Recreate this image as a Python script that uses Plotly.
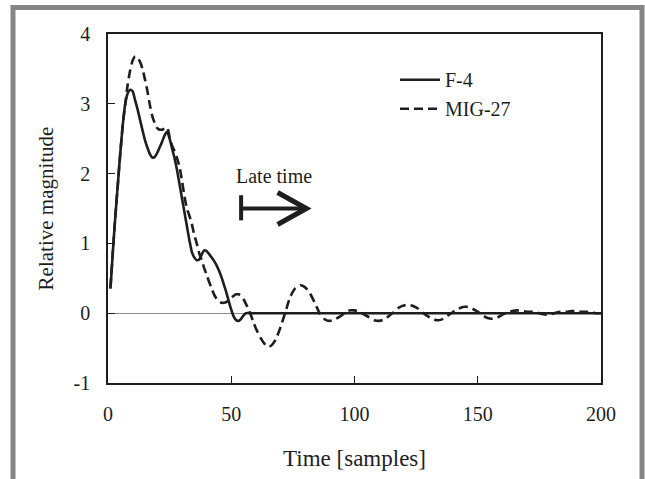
import plotly.graph_objects as go

# ---- data ----
f4_t = [1, 2, 3, 4, 5, 6, 7, 8, 9, 10, 11, 12, 13, 14, 15, 16, 17, 18, 19, 20,
        21, 22, 23, 24, 25, 26, 27, 28, 29, 30, 31, 32, 33, 34, 35, 36, 37, 38, 39, 40,
        41, 42, 43, 44, 45, 46, 47, 48, 49, 50, 51, 52, 53, 54, 55, 56, 58, 60,
        80, 100, 120, 140, 160, 180, 200]
f4_v = [0.35, 0.9, 1.4, 1.85, 2.3, 2.7, 3.0, 3.15, 3.2, 3.18, 3.05, 2.92, 2.77, 2.62, 2.48, 2.37, 2.28, 2.23, 2.24, 2.3,
        2.38, 2.46, 2.55, 2.6, 2.5, 2.36, 2.22, 2.05, 1.85, 1.65, 1.45, 1.25, 1.05, 0.88, 0.8, 0.76, 0.77, 0.84, 0.9, 0.89,
        0.85, 0.8, 0.75, 0.69, 0.61, 0.52, 0.41, 0.3, 0.17, 0.05, -0.05, -0.1, -0.11, -0.08, -0.03, 0.0, 0.0, 0.0,
        0.0, 0.0, 0.0, 0.0, 0.0, 0.0, 0.0]

mig_t = [1, 2, 3, 4, 5, 6, 7, 8, 9, 10, 11, 12, 13, 14, 15, 16, 17, 18, 19, 20,
         21, 22, 23, 24, 25, 26, 27, 28, 29, 30, 31, 32, 33, 34, 35, 36, 37, 38, 39, 40,
         41, 42, 43, 44, 45, 46, 47, 48, 49, 50, 51, 52, 53, 54, 55, 56, 57, 58, 59, 60,
         62, 64, 65, 66, 68, 70, 72, 74, 76, 78, 80, 82, 84, 86, 88, 90, 92, 94, 96, 98,
         100, 102, 104, 106, 108, 110, 112, 114, 116, 118, 120, 122, 124, 126, 128, 130,
         132, 134, 136, 138, 140, 142, 144, 146, 148, 150, 152, 154, 156, 158, 160, 162,
         164, 166, 168, 170, 172, 174, 176, 178, 180, 182, 184, 186, 188, 190, 192, 194,
         196, 198, 200]
mig_v = [0.37, 0.9, 1.4, 1.85, 2.3, 2.7, 3.0, 3.28, 3.48, 3.62, 3.68, 3.66, 3.6, 3.5, 3.35, 3.18, 2.98, 2.82, 2.72, 2.65,
         2.63, 2.63, 2.65, 2.66, 2.52, 2.4, 2.32, 2.22, 2.1, 1.9, 1.68, 1.5, 1.4, 1.28, 1.12, 1.0, 0.86, 0.76, 0.65, 0.55,
         0.45, 0.36, 0.27, 0.21, 0.17, 0.15, 0.15, 0.16, 0.19, 0.22, 0.25, 0.27, 0.27, 0.25, 0.2, 0.13, 0.06, -0.03, -0.13, -0.22,
         -0.36, -0.46, -0.48, -0.47, -0.38, -0.2, 0.02, 0.24, 0.36, 0.4, 0.37, 0.28, 0.14, -0.01, -0.09, -0.11, -0.09, -0.05, 0.0, 0.04,
         0.04, 0.02, -0.02, -0.06, -0.1, -0.11, -0.09, -0.04, 0.02, 0.08, 0.11, 0.12, 0.1, 0.06, 0.0, -0.05,
         -0.09, -0.1, -0.08, -0.03, 0.02, 0.06, 0.09, 0.09, 0.06, 0.02, -0.03, -0.07, -0.08, -0.06, -0.02, 0.01,
         0.03, 0.04, 0.03, 0.02, 0.02, 0.01, -0.01, -0.02, -0.01, 0.01, 0.02, 0.02, 0.03, 0.03, 0.02, 0.02,
         0.01, 0.0, 0.0]

x_ticks = [0, 50, 100, 150, 200]
y_ticks = [-1, 0, 1, 2, 3, 4]
y_tick_labels = ["-1", "0", "1", "2", "3", "4"]

FONT = "Liberation Serif, Times New Roman, serif"
INK = "#1e1e1e"

fig = go.Figure()
fig.add_trace(go.Scatter(x=f4_t, y=f4_v, mode="lines", name="F-4",
                         line=dict(color=INK, width=2.6, shape="spline", smoothing=0.6)))
fig.add_trace(go.Scatter(x=mig_t, y=mig_v, mode="lines", name="MIG-27",
                         line=dict(color=INK, width=2.6, dash="9px,5px", shape="spline", smoothing=0.6)))

# "Late time" arrow (decoration)
arrow = dict(type="line", xref="x", yref="y", line=dict(color=INK, width=4))
fig.add_shape(**arrow, x0=54, y0=1.33, x1=54, y1=1.69)
fig.add_shape(**arrow, x0=54, y0=1.5, x1=79, y1=1.5)
fig.add_shape(type="path", xref="x", yref="y",
              path="M 68.8,1.73 L 80.5,1.5 L 68.8,1.27",
              line=dict(color=INK, width=5))
fig.add_annotation(x=67.2, y=1.96, xref="x", yref="y", text="Late time", showarrow=False,
                   font=dict(family=FONT, size=20, color=INK))

# gray frame around the figure
fig.add_shape(type="path", xref="paper", yref="paper",
              path="M -0.1927,-0.35 L -0.1927,1.0759 L 1.0832,1.0759 L 1.0832,-0.35",
              line=dict(color="#858585", width=5))

fig.update_layout(
    width=645, height=479,
    margin=dict(l=108, r=44, t=34, b=96),
    paper_bgcolor="white", plot_bgcolor="white",
    font=dict(family=FONT, size=20, color=INK),
    showlegend=True,
    legend=dict(x=(395 - 108) / 493, y=0.925, xanchor="left", yanchor="top",
                bgcolor="rgba(0,0,0,0)", font=dict(family=FONT, size=20, color=INK),
                tracegroupgap=0, itemwidth=40),
)
fig.update_xaxes(range=[0, 200], tickvals=x_ticks, ticks="inside", ticklen=7, tickcolor=INK,
                 showline=True, mirror=True, linecolor=INK, linewidth=1.5,
                 showgrid=False, zeroline=False, ticklabelstandoff=12,
                 title=dict(text="Time [samples]", standoff=26, font=dict(size=23)))
fig.update_yaxes(range=[-1, 4], tickvals=y_ticks, ticktext=y_tick_labels, ticks="inside", ticklen=7,
                 tickcolor=INK, showline=True, mirror=True, linecolor=INK, linewidth=1.5,
                 showgrid=False, zeroline=True, zerolinecolor="#8a8a8a", zerolinewidth=1.2,
                 ticklabelstandoff=12,
                 title=dict(text="Relative magnitude", standoff=14, font=dict(size=21)))

fig.write_html("out.html", post_script="document.body.style.margin='0px';",
               config={"displayModeBar": False})
